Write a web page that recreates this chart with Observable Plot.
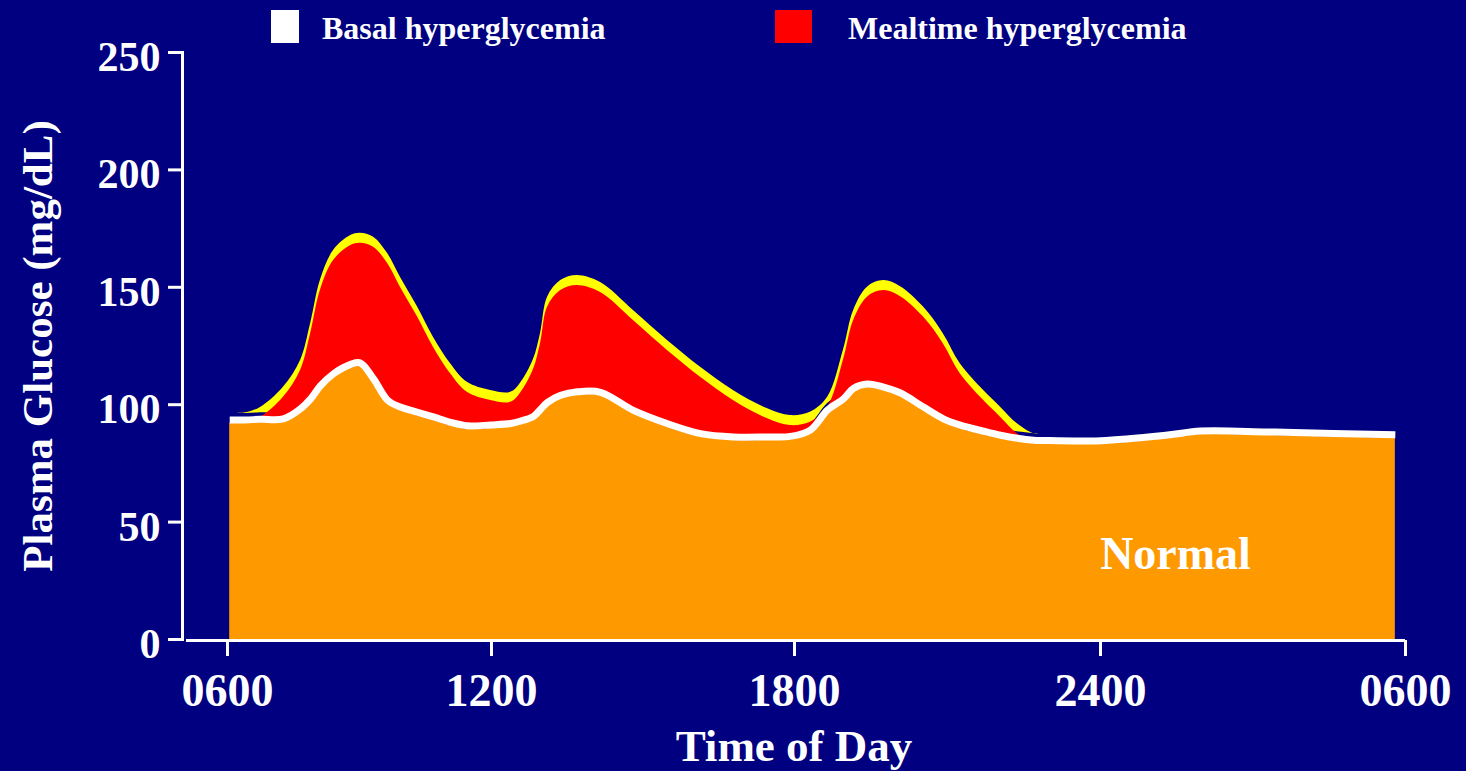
<!DOCTYPE html>
<html>
<head>
<meta charset="utf-8">
<script src="https://cdn.jsdelivr.net/npm/d3@7"></script>
<script src="https://cdn.jsdelivr.net/npm/@observablehq/plot@0.6"></script>
<style>
  html, body { margin: 0; padding: 0; background: #000080; }
  #chart { position: relative; width: 1466px; height: 771px; font-family: "Liberation Serif", "Times New Roman", serif; font-weight: bold; color: #fff; }
  #chart svg { position: absolute; left: 0; top: 0; }
  .swatch { position: absolute; top: 10px; height: 33px; }
  .legend-label { position: absolute; top: 12px; font-size: 32px; line-height: 33px; white-space: nowrap; }
</style>
</head>
<body>
<div id="chart"></div>
<script>
// Time of day in hours (24–30 = 0000–0600 of the next day)
const hours = [6.05, 6.41, 6.75, 7.27, 7.66, 7.89, 8.11, 8.41, 8.80, 9.02,
  9.32, 9.64, 9.93, 10.32, 10.68, 11.07, 11.45, 11.98, 12.38, 12.57,
  12.83, 12.97, 13.11, 13.37, 13.70, 14.16, 14.81, 15.49, 16.14, 16.79,
  17.47, 17.92, 18.31, 18.65, 18.96, 19.16, 19.43, 19.75, 20.08, 20.53,
  20.92, 21.25, 21.71, 22.04, 22.37, 22.69, 22.85, 24.0, 25.32, 25.97,
  27.29, 28.58, 29.80];

// Plasma glucose (mg/dL): basal level (top of the normal band)
const basalGlucose = [92, 92, 92.3, 92.5, 96.8, 101, 106.5, 111.7, 115.7, 116.3,
  109.5, 100.4, 97.5, 95.3, 93.3, 91, 89.5, 89.9, 90.5, 91.5,
  93.5, 96.5, 99.5, 102.5, 104, 103.8, 96.1, 90.4, 86.2, 84.8,
  84.8, 85, 87.7, 96.3, 101, 105.5, 107.3, 106, 103.5, 97.5,
  92.5, 89.8, 87.2, 85.5, 84.2, 83.4, 83.3, 83.2, 85.6, 87.3,
  86.9, 86.2, 85.7];

// Plasma glucose (mg/dL) including the post-meal excursions
const mealGlucose = [92, 92.3, 94.6, 103.2, 114.6, 130.3, 148.6, 161.4, 167.8, 168.8,
  167.1, 160.1, 150, 137.3, 124.5, 113.2, 105.3, 101.8, 101, 104.8,
  115, 126, 141.5, 148.6, 150.8, 147.8, 135.9, 123, 111.7, 101.8,
  94, 91.1, 92.5, 98.9, 119, 135.9, 145.8, 148.6, 146, 137.3,
  125.9, 113.2, 101.8, 94.7, 87.6, 83.4, 83.3, 83.2, 85.6, 87.3,
  86.9, 86.2, 85.7];

const xTicks = [6, 12, 18, 24, 30];
const xTickLabels = ["0600", "1200", "1800", "2400", "0600"];
const yTicks = [0, 50, 100, 150, 200, 250];

const legendLabels = ["Basal hyperglycemia", "Mealtime hyperglycemia"];
const legendColors = ["#ffffff", "#ff0000"];

const table = hours.map((t, i) => ({time: t, basal: basalGlucose[i], meal: mealGlucose[i]}));

const serif = "'Liberation Serif', 'Times New Roman', serif";
const curve = "catmull-rom";

const plot = Plot.plot({
  width: 1466,
  height: 771,
  marginTop: 52,
  marginBottom: 132,
  marginLeft: 182,
  marginRight: 61,
  style: {background: "transparent", color: "white", fontFamily: serif, fontWeight: "bold", overflow: "visible"},
  // piecewise time axis: the morning segment is drawn narrower than the rest
  x: {type: "linear", domain: xTicks, range: [227, 491, 794, 1100, 1405]},
  y: {type: "linear", domain: [0, 250], range: [639, 52]},
  marks: [
    // yellow rim along the top of the mealtime excursions
    Plot.areaY(table, {x: "time", y1: "basal", y2: "meal", fill: "#ffff00", dy: -10, curve}),
    // mealtime hyperglycemia
    Plot.areaY(table, {x: "time", y1: "basal", y2: "meal", fill: "#ff0000", curve}),
    // normal range
    Plot.areaY(table, {x: "time", y: "basal", fill: "#ff9900", curve}),
    // basal hyperglycemia band
    Plot.lineY(table, {x: "time", y: "basal", stroke: "#ffffff", strokeWidth: 7, strokeLinecap: "butt", dy: -3.5, curve}),
    Plot.text(["Normal"], {frameAnchor: "bottom-right", dx: -230, dy: -71, textAnchor: "middle", lineAnchor: "bottom", fill: "white", fontSize: 46, fontFamily: serif, fontWeight: "bold"}),
    // axes
    Plot.frame({anchor: "left", stroke: "white", strokeWidth: 3}),
    Plot.ruleY([0], {stroke: "white", strokeWidth: 3, insetLeft: 4, dy: 1}),
    Plot.axisX({ticks: xTicks, stroke: "white", fill: "none", strokeWidth: 3, tickSize: 16, label: null, dy: 1}),
    Plot.axisX({ticks: xTicks, tickFormat: d => xTickLabels[xTicks.indexOf(d)], stroke: "none", fill: "white", tickSize: 16, tickPadding: 18, fontSize: 46, label: null}),
    Plot.axisY({ticks: yTicks, stroke: "white", fill: "none", strokeWidth: 3, tickSize: 14, label: null}),
    Plot.axisY({ticks: yTicks, stroke: "none", fill: "white", tickSize: 14, tickPadding: 8, dy: 5, fontSize: 42, label: null}),
    Plot.text(["Time of Day"], {frameAnchor: "bottom", dy: 121, lineAnchor: "bottom", fill: "white", fontSize: 45, fontFamily: serif, fontWeight: "bold"}),
    Plot.text(["Plasma Glucose (mg/dL)"], {frameAnchor: "left", dx: -144, rotate: -90, textAnchor: "middle", fill: "white", fontSize: 43, fontFamily: serif, fontWeight: "bold"})
  ]
});

const chart = document.getElementById("chart");
chart.appendChild(plot);

// legend above the plot
const swatchBoxes = [{left: 271, width: 28}, {left: 775, width: 37}];
const labelLefts = [322, 848];
legendLabels.forEach((label, i) => {
  const sw = document.createElement("div");
  sw.className = "swatch";
  sw.style.left = swatchBoxes[i].left + "px";
  sw.style.width = swatchBoxes[i].width + "px";
  sw.style.background = legendColors[i];
  chart.appendChild(sw);
  const tx = document.createElement("div");
  tx.className = "legend-label";
  tx.style.left = labelLefts[i] + "px";
  tx.textContent = label;
  chart.appendChild(tx);
});
</script>
</body>
</html>
